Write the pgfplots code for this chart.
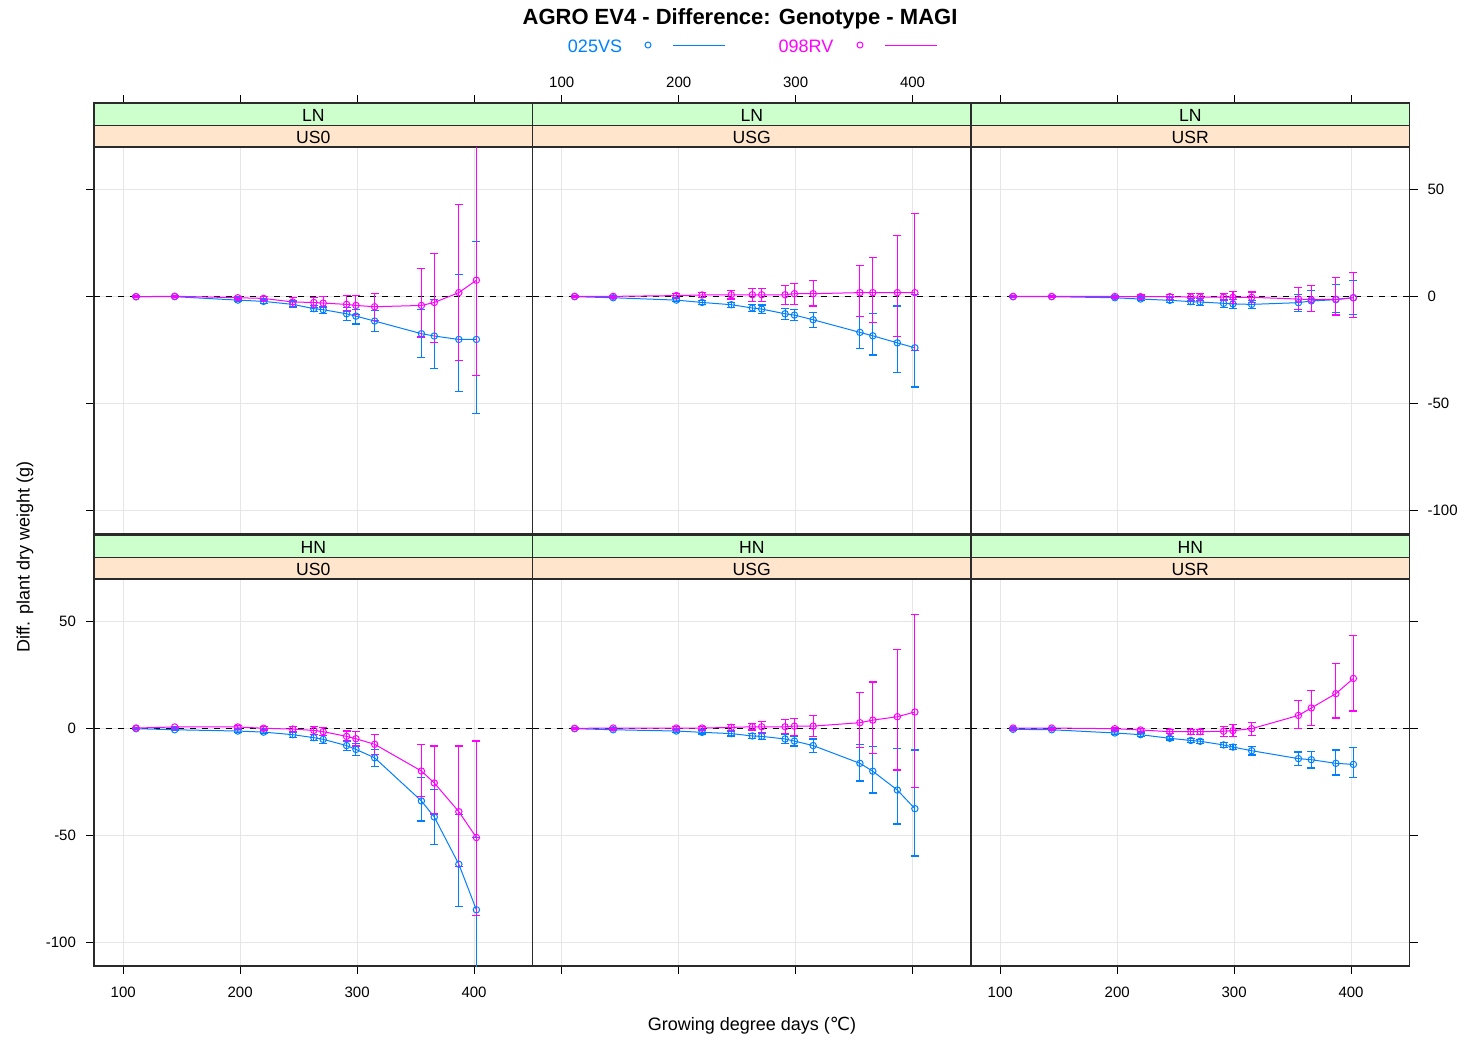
\documentclass[border=0pt]{standalone}
\usepackage{pgfplots}
\usepackage{pgfplotstable}
\usepackage{fontspec}
\pgfplotsset{compat=1.18}
\setmainfont{Liberation Sans}
\newfontfamily\dejavu{DejaVu Sans}

\definecolor{c025}{HTML}{0080FF}
\definecolor{c098}{HTML}{FF00FF}
\definecolor{stripA}{HTML}{CCFFCC}
\definecolor{stripB}{HTML}{FFE5CC}
\definecolor{gridc}{HTML}{E6E6E6}
\definecolor{framec}{HTML}{2A2A2A}

% columns: x, 025VS (b, +, -), 098RV (m, +, -)
\pgfplotstableread{
x   b     bp   bm   m    mp   mm
111 0     0.3  0.3  0    0.3  0.3
144 0     0.4  0.4  0.2  0.4  0.4
198 -1.6  0.8  0.8  -0.5 0.6  0.6
220 -2.2  1.0  1.0  -0.8 0.8  0.8
245 -3.6  1.6  1.6  -2.5 2.0  2.2
263 -5.6  1.5  1.5  -2.7 2.5  2.5
271 -6.1  1.6  1.8  -3.0 3.0  2.2
291 -8.0  2.8  3.0  -3.6 4.2  3.1
299 -9.1  3.2  3.7  -4.1 4.7  4.2
315 -11.4 5.0  5.0  -4.7 6.3  6.4
355 -17.3 11.4 11.3 -4.1 17.2 14.8
366 -18.4 17.1 15.2 -2.7 22.9 18.7
387 -20.0 30.5 24.2 1.9  41.2 31.6
402 -20.0 45.8 34.7 7.7  70   44.4
}\tLNa
\pgfplotstableread{
x   b     bp   bm   m    mp   mm
111 0     0.3  0.3  0.15 0.3  0.3
144 -0.5  0.4  0.4  0.15 0.4  0.4
198 -1.6  0.8  0.8  0.5  0.8  0.8
220 -2.7  1.0  1.0  0.8  1.2  1.2
245 -3.75 1.2  1.2  0.9  2.0  2.0
263 -5.3  1.7  1.7  0.9  3.0  3.2
271 -5.8  1.9  1.9  0.9  3.0  3.0
291 -8.0  2.5  2.5  0.9  4.4  4.5
299 -8.6  2.6  2.6  1.4  4.7  5.0
315 -10.8 3.5  3.5  1.4  6.1  5.8
355 -16.7 7.6  7.5  1.9  12.8 11.0
366 -18.3 10.6 9.0  1.9  16.4 14.1
387 -21.6 17.2 14.0 1.9  26.9 20.7
402 -23.9 25.0 18.3 1.9  37.0 26.9
}\tLNb
\pgfplotstableread{
x   b     bp   bm   m    mp   mm
111 0     0.3  0.3  0.1  0.3  0.3
144 0     0.3  0.3  0.1  0.3  0.3
198 -0.5  0.5  0.5  0.1  0.5  0.5
220 -1.1  0.8  0.8  0    0.8  0.8
245 -1.7  1.2  1.2  0    1.2  1.2
263 -2.3  1.5  1.5  -0.2 1.7  1.7
271 -2.5  1.5  1.5  -0.2 1.7  1.7
291 -3.1  1.8  1.8  -0.2 1.7  1.7
299 -3.4  2.2  2.2  -0.3 2.8  2.8
315 -3.6  2.0  2.0  -0.3 2.5  2.5
355 -2.8  4.0  4.0  -1.1 5.3  4.8
366 -2.0  5.0  5.0  -1.4 6.7  5.6
387 -1.4  7.0  6.0  -1.2 10.0 7.4
402 -0.5  8.0  8.0  -0.5 11.8 9.3
}\tLNc
\pgfplotstableread{
x   b     bp   bm   m     mp   mm
111 0     0.3  0.3  0.3   0.3  0.3
144 -0.5  0.4  0.4  0.8   0.4  0.4
198 -1.1  0.6  0.6  0.8   0.6  0.6
220 -1.6  0.8  0.8  0.2   0.8  0.8
245 -2.8  1.2  1.2  -0.2  1.2  1.2
263 -4.2  1.5  1.5  -0.8  1.8  1.8
271 -5.0  1.9  1.9  -1.4  1.8  1.8
291 -7.9  2.3  2.3  -3.6  2.5  2.5
299 -9.7  2.9  2.9  -4.7  3.4  3.4
315 -13.6 4.0  4.0  -7.3  4.5  4.7
355 -33.8 10.9 9.4  -19.8 12.5 12.1
366 -41.3 13.0 12.7 -25.4 17.3 14.5
387 -63.4 23.4 19.8 -38.8 30.7 25.7
402 -84.7 33.7 30.0 -50.9 45.1 36.3
}\tHNa
\pgfplotstableread{
x   b     bp   bm   m    mp   mm
111 0     0.3  0.3  0.15 0.3  0.3
144 -0.5  0.4  0.4  0.3  0.4  0.4
198 -1.1  0.6  0.6  0.3  0.6  0.6
220 -1.7  0.8  0.8  0.3  0.8  0.8
245 -2.3  1.1  1.1  0.6  1.3  1.3
263 -3.4  1.3  1.3  0.9  1.5  1.5
271 -3.6  1.5  1.5  0.9  2.5  2.5
291 -4.8  2.2  2.2  0.9  3.4  3.3
299 -5.8  2.3  2.3  1.2  3.6  4.2
315 -7.9  3.1  3.1  1.2  5.1  5.0
355 -16.2 8.9  8.3  2.8  14.0 11.7
366 -19.9 11.5 10.2 4.0  17.8 15.7
387 -28.7 19.4 15.9 5.6  31.5 24.9
402 -37.4 27.4 22.1 7.8  45.5 35.4
}\tHNb
\pgfplotstableread{
x   b     bp   bm   m    mp   mm
111 -0.3  0.3  0.3  0.3  0.3  0.3
144 -0.5  0.4  0.4  0.3  0.4  0.4
198 -2.0  0.6  0.6  0    0.6  0.6
220 -2.8  0.8  0.8  -0.6 0.8  0.8
245 -4.5  0.8  0.8  -1.4 1.0  1.0
263 -5.5  0.9  0.9  -1.4 1.2  1.2
271 -5.9  1.0  1.0  -1.4 1.2  1.2
291 -7.6  1.2  1.2  -1.2 2.3  2.3
299 -8.6  1.2  1.2  -0.9 2.7  2.7
315 -10.3 2.0  2.0  0    3.0  3.0
355 -14.0 3.1  3.1  6.2  7.0  6.2
366 -14.5 3.9  3.9  9.7  8.2  8.1
387 -16.2 6.2  5.5  16.4 14.0 11.4
402 -16.7 7.8  6.2  23.5 20.1 15.2
}\tHNc

\pgfplotsset{
  base/.style={
    scale only axis, width=219.25pt, anchor=north west,
    xmin=75, xmax=450,
    axis line style={line width=0.55pt, draw=framec},
    tick align=outside, major tick length=4pt,
    every tick/.style={black, line width=0.5pt},
    tick label style={font=\fontsize{7.5}{9}\selectfont},
    /pgf/number format/assume math mode=true,
  },
  panel/.style={
    base, height=193.5pt,
    ymin=-111, ymax=70,
    xtick={100,200,300,400}, ytick={-100,-50,0,50},
    grid=major, grid style={draw=gridc, line width=0.5pt},
    xticklabel style={yshift=-3pt},
    yticklabel style={xshift=-1.5pt},
  },
  strip/.style={
    base, height=22pt, ymin=0, ymax=1, ytick=\empty, axis on top,
  },
  s025/.style={color=c025, line width=0.5pt, mark=o, mark size=1.6pt,
    error bars/y dir=both, error bars/y explicit,
    error bars/error bar style={line width=0.55pt, color=c025},
    error bars/error mark options={rotate=90, mark size=2pt, line width=0.6pt, color=c025, draw=c025}},
  s098/.style={color=c098, line width=0.5pt, mark=o, mark size=1.6pt,
    error bars/y dir=both, error bars/y explicit,
    error bars/error bar style={line width=0.55pt, color=c098},
    error bars/error mark options={rotate=90, mark size=2pt, line width=0.6pt, color=c098, draw=c098}},
}
\tikzset{striplab/.style={font=\fontsize{8.8}{10}\selectfont, yshift=-0.6pt}}

\begin{document}
\begin{tikzpicture}
\useasboundingbox (0,0) rectangle (732.5pt,-520pt);

% strips (top row carries the top x ticks)
\foreach \cx/\ty/\lab/\xo in {47pt/-51.5pt/US0/{xticklabels={}},
                             266.25pt/-51.5pt/USG/{xticklabel pos=right},
                             485.5pt/-51.5pt/USR/{xticklabels={}}} {
  \edef\tmp{\noexpand\begin{axis}[strip, at={(\cx,\ty)}, xtick={100,200,300,400}, xtick pos=right, \xo]}
  \tmp
    \fill[stripA] (rel axis cs:0,0.5) rectangle (rel axis cs:1,1);
    \fill[stripB] (rel axis cs:0,0) rectangle (rel axis cs:1,0.5);
    \draw[framec, line width=0.5pt] (rel axis cs:0,0.5) -- (rel axis cs:1,0.5);
    \node[striplab] at (rel axis cs:0.5,0.75) {LN};
    \node[striplab] at (rel axis cs:0.5,0.25) {\lab};
  \end{axis}
}
\foreach \cx/\lab in {47pt/US0, 266.25pt/USG, 485.5pt/USR} {
  \begin{axis}[strip, at={(\cx,-267.5pt)}, xtick=\empty]
    \fill[stripA] (rel axis cs:0,0.5) rectangle (rel axis cs:1,1);
    \fill[stripB] (rel axis cs:0,0) rectangle (rel axis cs:1,0.5);
    \draw[framec, line width=0.5pt] (rel axis cs:0,0.5) -- (rel axis cs:1,0.5);
    \node[striplab] at (rel axis cs:0.5,0.75) {HN};
    \node[striplab] at (rel axis cs:0.5,0.25) {\lab};
  \end{axis}
}

% LN / US0
\begin{axis}[panel, at={(47pt,-73.5pt)}, xtick style={draw=none}, xticklabels={}, ytick pos=left, yticklabels={}]
  \addplot[black, dashed, line width=0.5pt, forget plot] coordinates {(75,0) (450,0)};
  \addplot[s025] table[x=x, y=b, y error plus=bp, y error minus=bm] {\tLNa};
  \addplot[s098] table[x=x, y=m, y error plus=mp, y error minus=mm] {\tLNa};
\end{axis}
% LN / USG
\begin{axis}[panel, at={(266.25pt,-73.5pt)}, xtick style={draw=none}, xticklabels={}, ytick style={draw=none}, yticklabels={}]
  \addplot[black, dashed, line width=0.5pt, forget plot] coordinates {(75,0) (450,0)};
  \addplot[s025] table[x=x, y=b, y error plus=bp, y error minus=bm] {\tLNb};
  \addplot[s098] table[x=x, y=m, y error plus=mp, y error minus=mm] {\tLNb};
\end{axis}
% LN / USR
\begin{axis}[panel, at={(485.5pt,-73.5pt)}, xtick style={draw=none}, xticklabels={}, ytick pos=right, yticklabel pos=right, yticklabel style={xshift=3pt}]
  \addplot[black, dashed, line width=0.5pt, forget plot] coordinates {(75,0) (450,0)};
  \addplot[s025] table[x=x, y=b, y error plus=bp, y error minus=bm] {\tLNc};
  \addplot[s098] table[x=x, y=m, y error plus=mp, y error minus=mm] {\tLNc};
\end{axis}
% HN / US0
\begin{axis}[panel, at={(47pt,-289.5pt)}, xtick pos=left, ytick pos=left]
  \addplot[black, dashed, line width=0.5pt, forget plot] coordinates {(75,0) (450,0)};
  \addplot[s025] table[x=x, y=b, y error plus=bp, y error minus=bm] {\tHNa};
  \addplot[s098] table[x=x, y=m, y error plus=mp, y error minus=mm] {\tHNa};
\end{axis}
% HN / USG
\begin{axis}[panel, at={(266.25pt,-289.5pt)}, xtick pos=left, xticklabels={}, ytick style={draw=none}, yticklabels={}]
  \addplot[black, dashed, line width=0.5pt, forget plot] coordinates {(75,0) (450,0)};
  \addplot[s025] table[x=x, y=b, y error plus=bp, y error minus=bm] {\tHNb};
  \addplot[s098] table[x=x, y=m, y error plus=mp, y error minus=mm] {\tHNb};
\end{axis}
% HN / USR
\begin{axis}[panel, at={(485.5pt,-289.5pt)}, xtick pos=left, ytick pos=right, yticklabels={}]
  \addplot[black, dashed, line width=0.5pt, forget plot] coordinates {(75,0) (450,0)};
  \addplot[s025] table[x=x, y=b, y error plus=bp, y error minus=bm] {\tHNc};
  \addplot[s098] table[x=x, y=m, y error plus=mp, y error minus=mm] {\tHNc};
\end{axis}

% title and key
\node[font=\bfseries\fontsize{11}{13}\selectfont] at (370pt,-9.5pt) {AGRO EV4 - Difference: Genotype - MAGI};
\node[font=\fontsize{9}{11}\selectfont, text=c025] at (297.5pt,-23pt) {025VS};
\draw[c025, line width=0.5pt] (324pt,-22.5pt) circle (1.5pt);
\draw[c025, line width=0.5pt] (336.5pt,-22.5pt) -- (362.5pt,-22.5pt);
\node[font=\fontsize{9}{11}\selectfont, text=c098] at (403pt,-23pt) {098RV};
\draw[c098, line width=0.5pt] (430pt,-22.5pt) circle (1.5pt);
\draw[c098, line width=0.5pt] (442.5pt,-22.5pt) -- (468.5pt,-22.5pt);

% axis titles
\node[font=\fontsize{9}{11}\selectfont, rotate=90] at (12.5pt,-278.5pt) {Diff. plant dry weight (g)};
\node[font=\fontsize{9}{11}\selectfont] at (376pt,-513pt) {Growing degree days ({\dejavu ℃})};
\end{tikzpicture}
\end{document}
